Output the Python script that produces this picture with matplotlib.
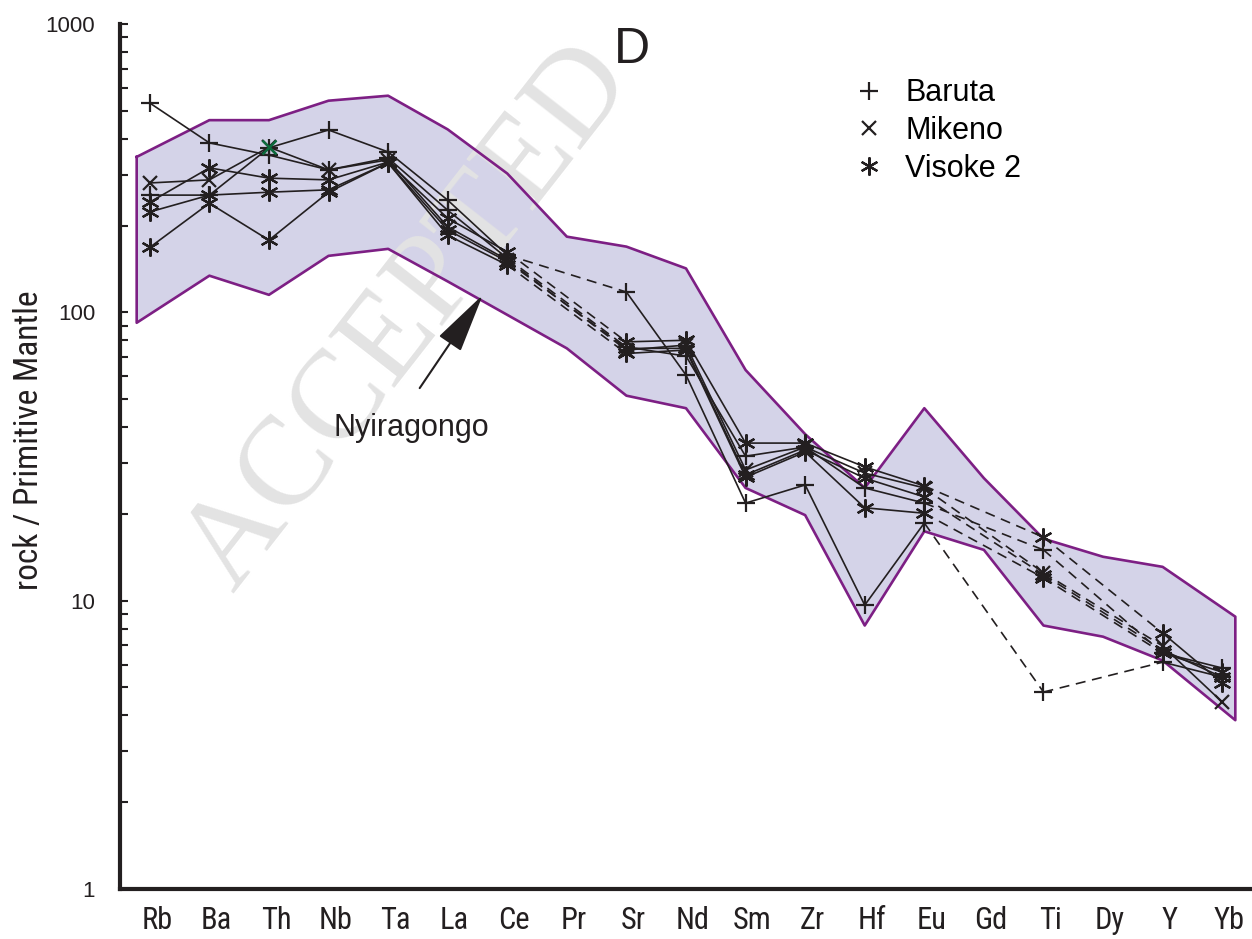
import matplotlib
matplotlib.use("Agg")
import matplotlib.pyplot as plt
import matplotlib.transforms as mtransforms
from matplotlib import font_manager
from matplotlib.lines import Line2D
import numpy as np

plt.rcParams['font.family'] = ['Liberation Sans', 'DejaVu Sans']

# narrow face for the axis labels if one is around
installed = {f.name for f in font_manager.fontManager.ttflist}
narrow = next((n for n in ['Liberation Sans Narrow', 'Roboto Condensed', 'Open Sans Condensed']
               if n in installed), None)
if narrow:
    label_font, label_size = [narrow, 'Liberation Sans'], 22
else:
    label_font, label_size = ['Liberation Sans', 'DejaVu Sans'], 20

elements = ["Rb", "Ba", "Th", "Nb", "Ta", "La", "Ce", "Pr", "Sr", "Nd",
            "Sm", "Zr", "Hf", "Eu", "Gd", "Ti", "Dy", "Y", "Yb"]
nan = np.nan

# Nyiragongo field (upper and lower limits)
nyira_upper = [346, 464, 464, 542, 564, 431, 303, 183, 169, 142,
               63.1, 37.8, 24.6, 46.5, 26.6, 16.4, 14.2, 13.1, 8.8]
nyira_lower = [92, 134, 115, 157, 166, 128, 98, 75, 51.4, 46.5,
               24.6, 19.8, 8.2, 17.4, 15.0, 8.2, 7.5, 6.2, 3.85]

# rock / primitive mantle, one row per sample
baruta_1 = [255, 255, 372, 429, 360, 245, 158, nan, 117.6, 60.6,
            21.8, 25.2, 9.65, 18.6, nan, 4.82, nan, 6.12, 5.43]
baruta_2 = [532, 387, 351, 312, 343, 226, 154, nan, 75.8, 70.5,
            31.7, 34.1, 24.6, 21.8, nan, 15.0, nan, 6.58, 5.84]
mikeno_1 = [281, 288, 374, 312, 338, 198, 152, nan, 74.0, 77.0,
            28.4, 34.1, 27.7, 24.6, nan, 12.5, nan, 6.96, 4.45]
visoke_1 = [241, 317, 292, 288, 332, 212, 162, nan, 79.0, 80.0,
            35.2, 35.2, 29.1, 25.0, nan, 16.6, nan, 7.72, 5.18]
visoke_2 = [223, 255, 261, 266, 330, 185, 146, nan, 72.0, 74.0,
            26.8, 32.8, 21.0, 20.1, nan, 12.0, nan, 6.58, 5.65]
visoke_3 = [168, 239, 178, 261, 330, 193, 150, nan, 75.0, 75.0,
            27.3, 33.3, 26.6, 22.9, nan, 12.3, nan, 6.74, 5.43]

ink = '#231f20'
asterisk = (6, 2, 0)
samples = [
    (baruta_1, '+', 13),
    (baruta_2, '+', 13),
    (mikeno_1, 'x', 10),
    (visoke_1, asterisk, 13),
    (visoke_2, asterisk, 13),
    (visoke_3, asterisk, 13),
]

fig = plt.figure(figsize=(12.52, 9.39), dpi=100)
ax = fig.add_axes([120 / 1252, 50 / 939, 1132 / 1252, 865 / 939])

x = np.arange(len(elements))

# field polygon, padded a little past Rb and Yb
ex = x.astype(float)
ex[0] -= 0.22
ex[-1] += 0.22
ax.fill_between(ex, nyira_lower, nyira_upper, color='#d4d3e8', lw=0, zorder=1)
ax.plot(np.r_[ex, ex[::-1], ex[0]],
        np.r_[nyira_upper, nyira_lower[::-1], nyira_upper[0]],
        color='#7d1f84', lw=1.9, zorder=2)

# stamp across the panel, over the field fill but under its outline and the samples
ax.text(0.186, 0.368, "ACCEPTED", transform=fig.transFigure, clip_on=False,
        family=['Liberation Serif', 'DejaVu Serif'], fontsize=91, color='#e3e3e3',
        rotation=52, rotation_mode='anchor', ha='left', va='baseline', zorder=1.5)

for vals, mk, ms in samples:
    v = np.array(vals, dtype=float)
    ax.plot(x, v, color=ink, lw=1.2, zorder=3)
    # dashed link across elements that were not analysed
    for i in np.where(np.isnan(v))[0]:
        ax.plot([x[i - 1], x[i + 1]], [v[i - 1], v[i + 1]], color=ink, lw=1.2,
                ls=(0, (6, 4)), zorder=3)
    ax.plot(x, v, ls='none', marker=mk, ms=ms, mew=1.6, mec=ink, mfc='none', zorder=4)

# one Mikeno Th point is printed in green
ax.plot(x[2], mikeno_1[2], ls='none', marker='x', ms=10, mew=1.8, mec='#0c6b3c', zorder=5)

ax.set_yscale('log')
ax.set_ylim(1, 1000)
ax.set_xlim(-0.5, 18.5)

ax.spines['top'].set_visible(False)
ax.spines['right'].set_visible(False)
for s in ('left', 'bottom'):
    ax.spines[s].set_linewidth(3)
    ax.spines[s].set_color(ink)

ax.set_yticks([1, 10, 100, 1000])
ax.set_yticklabels(['1', '10', '100', '1000'])
ax.tick_params(axis='y', which='both', direction='in', width=1.5, length=6,
               labelsize=16, pad=18, colors=ink)
ax.yaxis.set_minor_formatter(plt.NullFormatter())

ax.set_xticks(x)
ax.set_xticklabels(elements, family=label_font, fontsize=label_size)
ax.tick_params(axis='x', length=0, pad=12, colors=ink)
shift = mtransforms.ScaledTranslation(7 / 100, 0, fig.dpi_scale_trans)
for lab in ax.get_xticklabels():
    lab.set_transform(lab.get_transform() + shift)

ax.set_ylabel('rock / Primitive Mantle', family=label_font, fontsize=24, color=ink)
ax.yaxis.set_label_coords(-0.066, 0.519)

ax.text(0.452, 0.97, 'D', transform=ax.transAxes, fontsize=36, ha='center', va='center',
        color=ink, zorder=6)

ax.annotate('', xy=(5.59, 115), xytext=(4.53, 54.6),
            arrowprops=dict(arrowstyle='-|>,head_length=1.9,head_width=0.42',
                            mutation_scale=20, lw=1.5, color=ink, shrinkA=0, shrinkB=0),
            zorder=6)
ax.text(0.257, 0.533, 'Nyiragongo', transform=ax.transAxes, fontsize=22,
        ha='center', va='center', color=ink, zorder=6)

handles = [Line2D([], [], ls='none', marker='+', ms=13, mew=1.6, color=ink),
           Line2D([], [], ls='none', marker='x', ms=10, mew=1.6, color=ink),
           Line2D([], [], ls='none', marker=asterisk, ms=13, mew=1.6, color=ink)]
leg = ax.legend(handles, ['Baruta', 'Mikeno', 'Visoke 2'], loc='upper left',
                bbox_to_anchor=(0.6235, 0.969), frameon=False, fontsize=22,
                handlelength=1.0, handletextpad=0.7, labelspacing=0.25)
leg.set_zorder(6)

fig.savefig('out.png', dpi=100)
